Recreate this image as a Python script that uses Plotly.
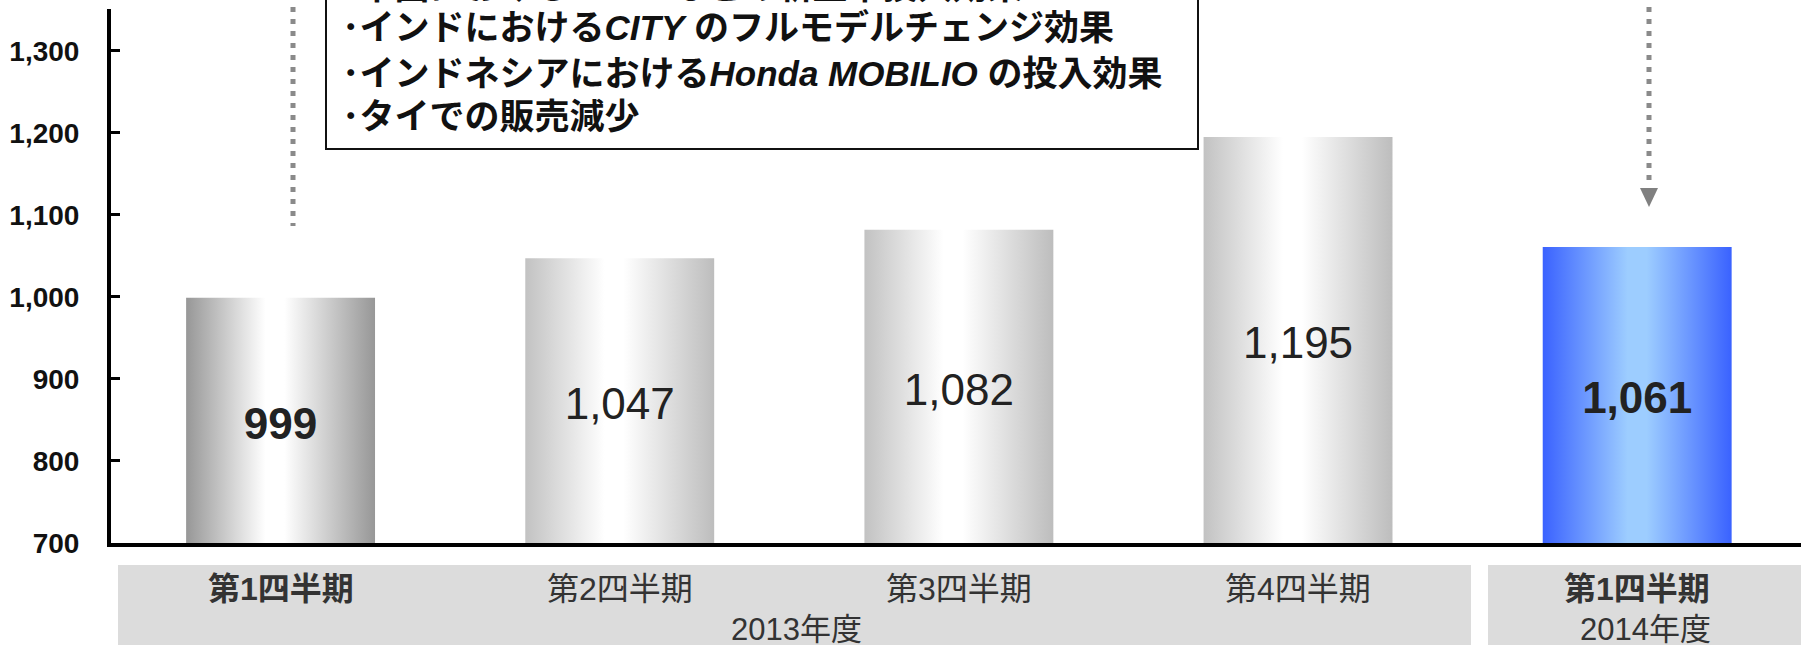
import plotly.graph_objects as go

# ---- data ----
categories = ["第1四半期", "第2四半期", "第3四半期", "第4四半期", "第1四半期"]
values = [999, 1047, 1082, 1195, 1061]
bold_flags = [True, False, False, False, True]
fiscal_years = ["2013年度", "2014年度"]
y_ticks = [700, 800, 900, 1000, 1100, 1200, 1300]
unit_label = "(千台)"
box_lines = [
    "･中国における<i>JADE</i> などの新型車投入効果",
    "･インドにおける<i>CITY</i> のフルモデルチェンジ効果",
    "･インドネシアにおける<i>Honda MOBILIO</i> の投入効果",
    "･タイでの販売減少",
]

gray_dark = [[0, "#979797"], [0.42, "#ffffff"], [0.52, "#ffffff"], [1, "#979797"]]
gray_light = [[0, "#c2c2c2"], [0.42, "#ffffff"], [0.52, "#ffffff"], [1, "#bdbdbd"]]
blue = [[0, "#3a62ff"], [0.45, "#9dcdff"], [0.55, "#9dcdff"], [1, "#3a62ff"]]
bar_scales = [gray_dark, gray_light, gray_light, gray_light, blue]

W, H = 1801, 645
ML, MR, MT, MB = 111, 0, 9, 102
PW, PH = W - ML - MR, H - MT - MB
Y_MIN, Y_MAX = 700, 1351
X_MIN, X_MAX = -0.5, 4.483
BAR_W = 0.557
LABEL_SHIFT = 9  # value labels sit slightly below bar middle

FONT = "Liberation Sans, Arial, Noto Sans CJK JP, sans-serif"


def px_x(p):
    return (p - ML) / PW


def px_y(p):
    return (H - MB - p) / PH


fig = go.Figure()

# gradient bars
for i, (v, cs) in enumerate(zip(values, bar_scales)):
    x0, x1 = i - BAR_W / 2, i + BAR_W / 2
    fig.add_trace(go.Scatter(
        x=[x0, x0, x1, x1, x0], y=[0, v, v, 0, 0],
        mode="lines", line=dict(width=0), fill="toself",
        fillgradient=dict(type="horizontal", colorscale=cs, start=x0, stop=x1),
        hoverinfo="skip", showlegend=False,
    ))

# value labels inside bars
texts = [f"<b>{v:,}</b>" if b else f"{v:,}" for v, b in zip(values, bold_flags)]
fig.add_trace(go.Scatter(
    x=list(range(len(values))), y=[(Y_MIN + v) / 2 - LABEL_SHIFT for v in values],
    mode="text", text=texts, textposition="middle center",
    textfont=dict(family=FONT, size=44, color="#222222"),
    hoverinfo="skip", showlegend=False,
))

shapes = []
# gray category bands
shapes.append(dict(type="rect", xref="paper", yref="paper",
                   x0=px_x(118), x1=px_x(1471), y0=px_y(565), y1=px_y(650),
                   fillcolor="#dcdcdc", line=dict(width=0), layer="below"))
shapes.append(dict(type="rect", xref="paper", yref="paper",
                   x0=px_x(1488), x1=px_x(1805), y0=px_y(565), y1=px_y(650),
                   fillcolor="#dcdcdc", line=dict(width=0), layer="below"))
# comment box
shapes.append(dict(type="rect", xref="paper", yref="paper",
                   x0=px_x(326), x1=px_x(1198), y0=px_y(149), y1=px_y(-20),
                   fillcolor="white", line=dict(color="#111111", width=2)))
# dotted lines
shapes.append(dict(type="line", xref="paper", yref="paper",
                   x0=px_x(293), x1=px_x(293), y0=px_y(-5), y1=px_y(226),
                   line=dict(color="#8a8a8a", width=5, dash="5px,7px")))
shapes.append(dict(type="line", xref="paper", yref="paper",
                   x0=px_x(1649), x1=px_x(1649), y0=px_y(-5), y1=px_y(182),
                   line=dict(color="#8a8a8a", width=5, dash="5px,7px")))
# arrow head
ax_, ay0, ay1 = 1649, 188, 207
shapes.append(dict(type="path", xref="paper", yref="paper",
                   path=f"M {px_x(ax_-9)},{px_y(ay0)} L {px_x(ax_+9)},{px_y(ay0)} L {px_x(ax_)},{px_y(ay1)} Z",
                   fillcolor="#808080", line=dict(width=0)))

annotations = []
# box text lines
line_y = [-14, 28, 74, 116]
for t, yy in zip(box_lines, line_y):
    annotations.append(dict(xref="paper", yref="paper", x=px_x(340), y=px_y(yy),
                            xanchor="left", yanchor="middle", showarrow=False,
                            text=f"<b>{t}</b>",
                            font=dict(family=FONT, size=35, color="#111111")))
# unit label (cut at top)
annotations.append(dict(xref="paper", yref="paper", x=px_x(214), y=px_y(3),
                        xanchor="right", yanchor="bottom", showarrow=False,
                        text=f"<b>{unit_label}</b>",
                        font=dict(family=FONT, size=26, color="#111111")))
# category labels
for i, (c, b) in enumerate(zip(categories, bold_flags)):
    annotations.append(dict(xref="x", yref="paper", x=i, y=px_y(589),
                            xanchor="center", yanchor="middle", showarrow=False,
                            text=f"<b>{c}</b>" if b else c,
                            font=dict(family=FONT, size=32, color="#333333")))
# fiscal year labels
annotations.append(dict(xref="x", yref="paper", x=1.52, y=px_y(629),
                        xanchor="center", yanchor="middle", showarrow=False,
                        text=fiscal_years[0],
                        font=dict(family=FONT, size=31, color="#333333")))
annotations.append(dict(xref="paper", yref="paper", x=px_x(1645), y=px_y(629),
                        xanchor="center", yanchor="middle", showarrow=False,
                        text=fiscal_years[1],
                        font=dict(family=FONT, size=31, color="#333333")))

fig.update_layout(
    width=W, height=H,
    margin=dict(l=ML, r=MR, t=MT, b=MB, pad=0),
    paper_bgcolor="white", plot_bgcolor="white",
    showlegend=False,
    shapes=shapes, annotations=annotations,
    xaxis=dict(range=[X_MIN, X_MAX], showgrid=False, zeroline=False,
               showticklabels=False, ticks="", showline=True,
               linecolor="black", linewidth=4, fixedrange=True),
    yaxis=dict(range=[Y_MIN, Y_MAX], showgrid=False, zeroline=False,
               tickvals=y_ticks, tickformat=",d", ticks="inside",
               ticklen=9, tickwidth=3, tickcolor="black",
               showline=True, linecolor="black", linewidth=4,
               tickfont=dict(family=FONT, size=28, color="#111111", weight="bold"),
               ticklabelstandoff=22, fixedrange=True),
)

fig.write_html("out.html")
